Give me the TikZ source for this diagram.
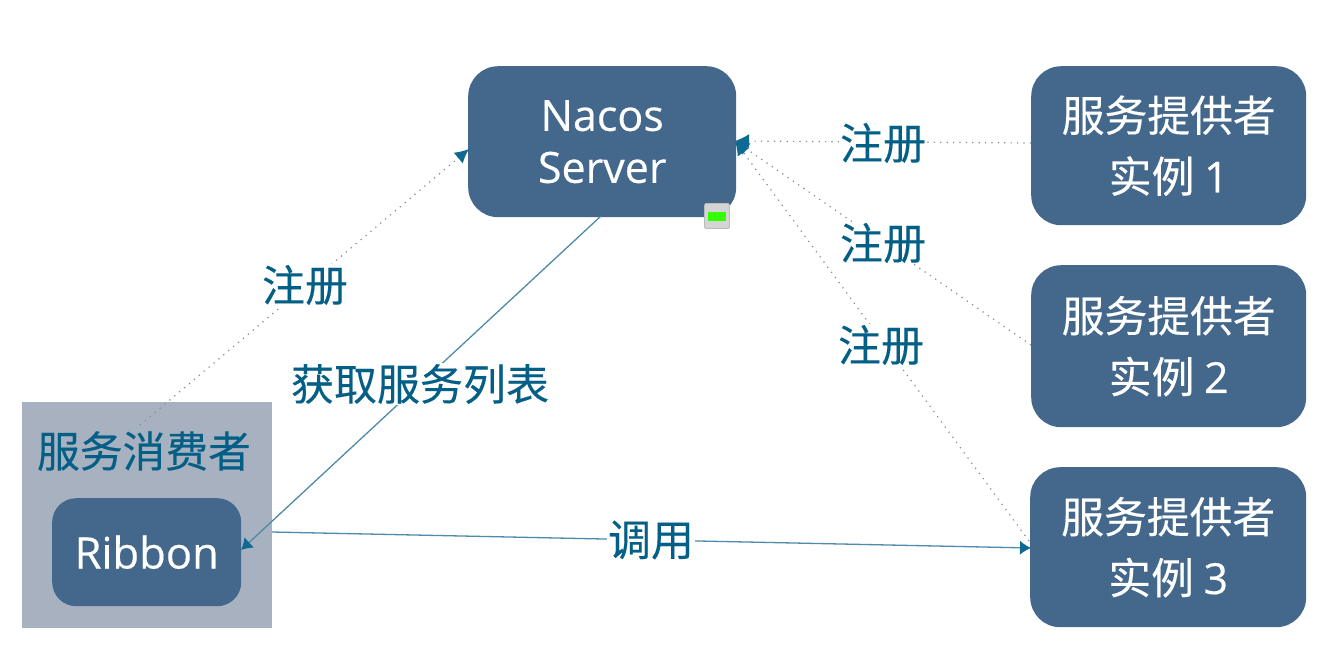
\documentclass[tikz,border=0pt]{standalone}
\usepackage{fontspec}
\setmainfont[FakeBold=0.35]{Open Sans}
\newfontfamily\latn[FakeBold=0.35]{Open Sans}
\newfontfamily\cjk[FakeBold=0.25]{Noto Sans CJK SC}
\usetikzlibrary{arrows.meta}
\definecolor{boxblue}{HTML}{44688C}
\definecolor{greybox}{HTML}{A8B1C0}
\definecolor{tealtext}{HTML}{035F85}
\definecolor{tiptip}{HTML}{0F6A93}
\definecolor{dotline}{HTML}{7C8C9A}
\definecolor{solidline}{HTML}{4E8BA8}
\tikzset{x=1pt,y=-1pt,
 svcbox/.style={fill=boxblue,draw=none,rounded corners=30pt,align=center,text=white,inner sep=0pt,font=\fontsize{42.8}{61}\selectfont\cjk},
 lbl/.style={fill=white,text=tealtext,inner sep=1pt,font=\fontsize{43}{48}\selectfont\cjk},
 dotlink/.style={draw=dotline,line width=1.2pt,dash pattern=on 1.2pt off 5.2pt,-{Latex[length=14pt,width=14pt,color=tiptip]}},
 solidlink/.style={draw=solidline,line width=1.3pt,-{Latex[length=11pt,width=14pt,color=tiptip]}},
}
\begin{document}
\begin{tikzpicture}
\useasboundingbox (0,0) rectangle (1329,651);
\fill[white] (0,0) rectangle (1329,651);
% consumer
\node[fill=greybox,minimum width=250pt,minimum height=226pt,inner sep=0pt,anchor=north west] (consumer) at (22,402) {};
\node[text=tealtext,inner sep=0pt,font=\fontsize{42.8}{48}\selectfont\cjk] (consumerlabel) at (144,451) {服务消费者};
\node[svcbox,minimum width=189pt,minimum height=108pt,anchor=north west,rounded corners=24pt,font=\fontsize{43.5}{48}\selectfont] (ribbon) at (52,498) {Ribbon};
% server
\node[svcbox,minimum width=268pt,minimum height=151pt,anchor=north west,font=\fontsize{43}{52}\selectfont] (nacos) at (468,66) {Nacos\\Server};
% providers
\node[svcbox,minimum width=275pt,minimum height=159pt,anchor=north west] (p1) at (1031,66) {服务提供者\\实例 {\latn 1}};
\node[svcbox,minimum width=275pt,minimum height=162pt,anchor=north west] (p2) at (1031,265) {服务提供者\\实例 {\latn 2}};
\node[svcbox,minimum width=276pt,minimum height=160pt,anchor=north west] (p3) at (1030,467) {服务提供者\\实例 {\latn 3}};
% connector ends
\coordinate (cOut) at (140,425);
\coordinate (nIn) at (469,149);
\coordinate (nTip) at (735,141);
\coordinate (p1Out) at (1031,143);
\coordinate (p2Out) at (1031,345);
\coordinate (p3Out) at (1029,541);
\coordinate (nOut) at (601,216);
\coordinate (rIn) at (241,550);
\coordinate (rOut) at (272,532);
\coordinate (p3In) at (1031,548);
% connectors
\draw[dotlink] (cOut) -- (nIn);
\draw[dotlink] (p1Out) -- (nTip);
\draw[dotlink] (p2Out) -- (nTip);
\draw[dotlink] (p3Out) -- (nTip);
\draw[solidlink] (nOut) -- (rIn);
\draw[solidlink] (rOut) -- (p3In);
% labels
\node[lbl] (l1) at (883,143) {注册};
\node[lbl] (l2) at (883,243) {注册};
\node[lbl] (l3) at (881,345) {注册};
\node[lbl] (l4) at (305,285) {注册};
\node[lbl] (l5) at (420,384) {获取服务列表};
\node[lbl] (l6) at (651,540) {调用};
% status indicator
\node[fill=black!17,draw=black!27,line width=.8pt,rounded corners=1.5pt,minimum width=25pt,minimum height=25pt,inner sep=0pt] (status) at (717,216) {};
\node[fill=green!80!yellow,minimum width=18pt,minimum height=9pt,inner sep=0pt] (statuslight) at (717,216) {};
\end{tikzpicture}
\end{document}
